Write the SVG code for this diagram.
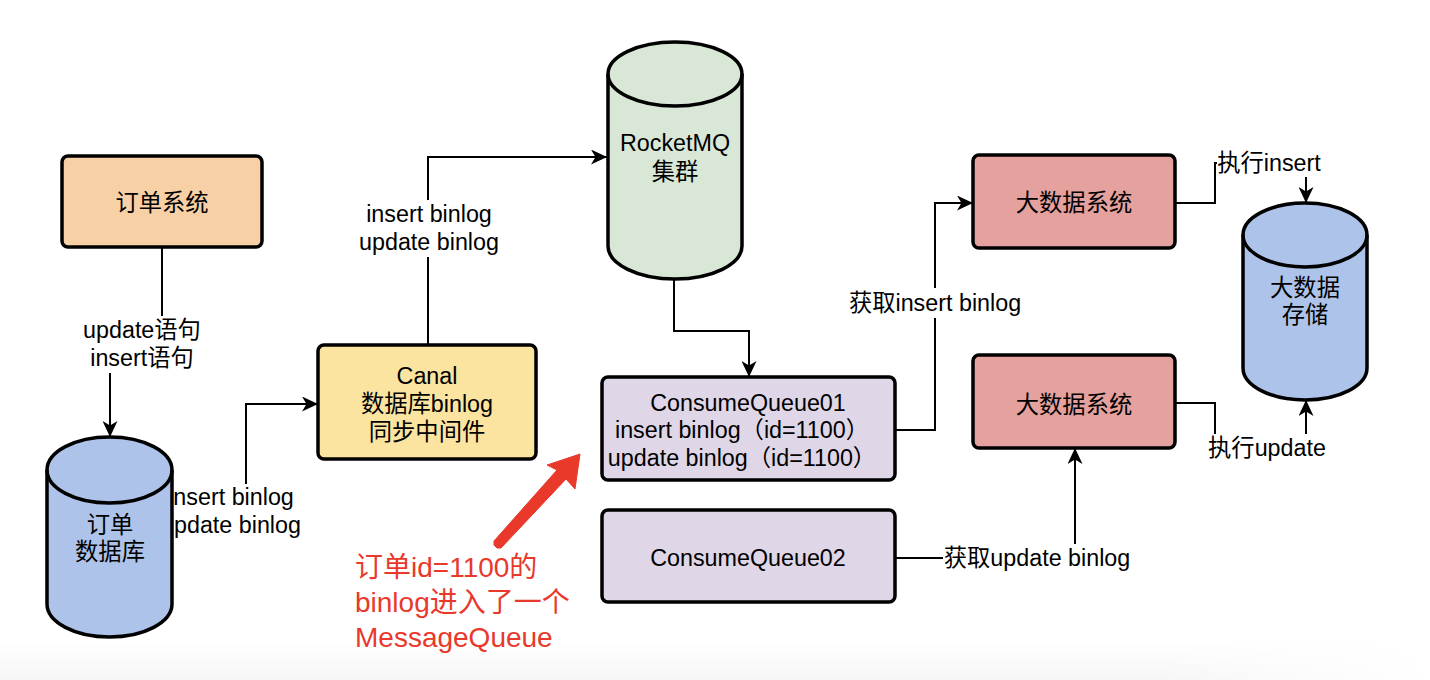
<svg xmlns="http://www.w3.org/2000/svg" width="1430" height="680" viewBox="0 0 1430 680">
<style>
text{font-family:"Liberation Sans","Noto Sans CJK SC",sans-serif;font-size:23.3px;fill:#000;text-anchor:middle}
.box{stroke:#000;stroke-width:3.5}
.edge{fill:none;stroke:#000;stroke-width:2}
.lbg{fill:#fff}
.red{fill:#E8392B;font-size:28px;text-anchor:start}
</style>
<defs>
<marker id="arr" markerUnits="userSpaceOnUse" markerWidth="17" markerHeight="15" refX="16" refY="7.5" orient="auto">
<path d="M0,0 L16,7.5 L0,15 L4.5,7.5 z" fill="#000"/>
</marker>
<linearGradient id="fadeV" x1="0" y1="0" x2="0" y2="1">
<stop offset="0" stop-color="#f6f6f6" stop-opacity="0"/>
<stop offset="1" stop-color="#f6f6f6" stop-opacity="1"/>
</linearGradient>
<linearGradient id="fadeH" x1="0" y1="0" x2="1" y2="0">
<stop offset="0" stop-color="#fff" stop-opacity="0"/>
<stop offset="1" stop-color="#fff" stop-opacity="1"/>
</linearGradient>
</defs>
<rect x="0" y="0" width="1430" height="680" fill="#fff"/>
<rect x="0" y="640" width="1430" height="40" fill="url(#fadeV)"/>
<rect x="1150" y="640" width="280" height="40" fill="url(#fadeH)"/>

<g id="connectors">
<path class="edge" d="M162,247 V345 H110 V437" marker-end="url(#arr)"/>
<path class="edge" d="M172,537 H246 V404 H318" marker-end="url(#arr)"/>
<path class="edge" d="M428,345 V157 H607" marker-end="url(#arr)"/>
<path class="edge" d="M674,280 V331 H749 V377" marker-end="url(#arr)"/>
<path class="edge" d="M895,430 H935 V203 H973" marker-end="url(#arr)"/>
<path class="edge" d="M895,558 H1075 V448" marker-end="url(#arr)"/>
<path class="edge" d="M1175,203 H1215 V163 H1306 V203" marker-end="url(#arr)"/>
<path class="edge" d="M1175,403 H1215 V448 H1306 V400" marker-end="url(#arr)"/>
</g>

<g id="edge-labels">
<rect class="lbg" x="80" y="316" width="125" height="57"/>
<text x="142" y="338">update语句</text>
<text x="142" y="366">insert语句</text>
<rect class="lbg" x="160" y="484" width="144" height="56"/>
<text x="231" y="505">insert binlog</text>
<text x="231" y="533">update binlog</text>
<rect class="lbg" x="356" y="200" width="146" height="57"/>
<text x="429" y="222">insert binlog</text>
<text x="429" y="250">update binlog</text>
<rect class="lbg" x="845" y="288" width="180" height="30"/>
<text x="935" y="311">获取insert binlog</text>
<rect class="lbg" x="943" y="544" width="188" height="28"/>
<text x="1037" y="566">获取update binlog</text>
<rect class="lbg" x="1217" y="150" width="107" height="27"/>
<text x="1269" y="171">执行insert</text>
<rect class="lbg" x="1206" y="434" width="124" height="28"/>
<text x="1267" y="456">执行update</text>
</g>

<g id="order-system">
<rect class="box" x="62" y="156" width="200" height="91" rx="6" fill="#F7D0A5"/>
<text x="162" y="211">订单系统</text>
</g>

<g id="order-db">
<path class="box" d="M47,470 A62.5,33 0 0 1 172,470 V604 A62.5,33 0 0 1 47,604 Z" fill="#AEC3E9"/>
<path class="box" d="M47,470 A62.5,33 0 0 0 172,470" fill="none"/>
<text x="110" y="533">订单</text>
<text x="110" y="560">数据库</text>
</g>

<g id="canal">
<rect class="box" x="318" y="345" width="218" height="114" rx="6" fill="#FAE4A0"/>
<text x="427" y="384">Canal</text>
<text x="427" y="412">数据库binlog</text>
<text x="427" y="440">同步中间件</text>
</g>

<g id="rocketmq">
<path class="box" d="M608,74 A67,32 0 0 1 742,74 V246 A67,33 0 0 1 608,246 Z" fill="#D8E7D6"/>
<path class="box" d="M608,74 A67,32 0 0 0 742,74" fill="none"/>
<text x="675" y="151">RocketMQ</text>
<text x="675" y="180">集群</text>
</g>

<g id="consume-queue-01">
<rect class="box" x="602" y="377" width="293" height="103" rx="6" fill="#DFD6E7"/>
<text x="748" y="411">ConsumeQueue01</text>
<text x="742" y="438">insert binlog（id=1100）</text>
<text x="742" y="466">update binlog（id=1100）</text>
</g>

<g id="consume-queue-02">
<rect class="box" x="602" y="510" width="293" height="92" rx="6" fill="#DFD6E7"/>
<text x="748" y="566">ConsumeQueue02</text>
</g>

<g id="bigdata-system-1">
<rect class="box" x="973" y="155" width="202" height="93" rx="6" fill="#E5A19D"/>
<text x="1074" y="211">大数据系统</text>
</g>

<g id="bigdata-system-2">
<rect class="box" x="973" y="355" width="202" height="93" rx="6" fill="#E5A19D"/>
<text x="1074" y="413">大数据系统</text>
</g>

<g id="bigdata-storage">
<path class="box" d="M1243,235 A62,32 0 0 1 1367,235 V368 A62,32 0 0 1 1243,368 Z" fill="#AEC3E9"/>
<path class="box" d="M1243,235 A62,32 0 0 0 1367,235" fill="none"/>
<text x="1305" y="296">大数据</text>
<text x="1305" y="323">存储</text>
</g>

<g id="annotation">
<polygon points="580,454 575,489 566,479 501,548 497,548 494,545 494,541 557,470 547,465" fill="#E8392B" stroke="#E8392B" stroke-width="1" stroke-linejoin="round"/>
<text class="red" x="355" y="577">订单id=1100的</text>
<text class="red" x="355" y="612">binlog进入了一个</text>
<text class="red" x="355" y="647">MessageQueue</text>
</g>
</svg>
